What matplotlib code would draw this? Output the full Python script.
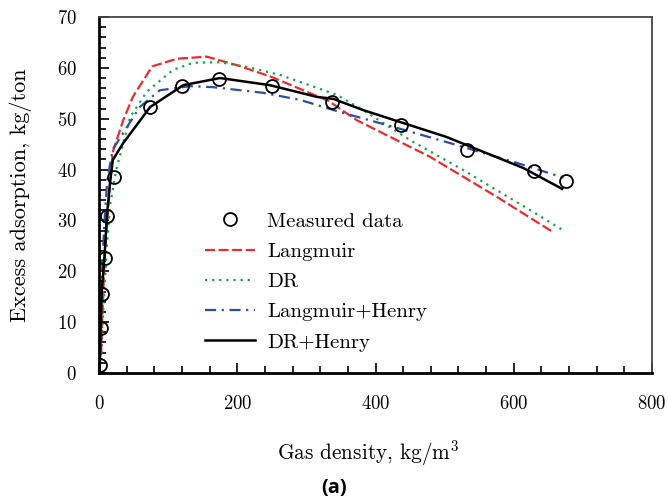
import matplotlib
matplotlib.use("Agg")
import matplotlib.pyplot as plt
import numpy as np

plt.rcParams['font.family'] = 'cmr10'
plt.rcParams['mathtext.fontset'] = 'cm'
plt.rcParams['axes.formatter.use_mathtext'] = True

# measured points
meas_x = [2, 2.5, 4, 8.5, 11.5, 21.5, 74, 120, 173, 250, 337, 437, 532, 630, 676]
meas_y = [1.5, 8.8, 15.6, 22.6, 30.8, 38.5, 52.3, 56.5, 57.8, 56.5, 53.3, 48.7, 43.9, 39.8, 37.8]

# model curves
lang_x = [3, 5, 8, 12, 16, 20, 35, 49, 77, 113, 156, 200, 250, 332, 373, 479, 576, 658]
lang_y = [3.5, 12, 22, 30, 37, 43.5, 49.7, 54.3, 60.3, 61.8, 62.2, 60.5, 58.2, 53.5, 49.7, 42.5, 34.6, 27.6]

dr_x = [3, 5, 8, 12, 16, 25, 45, 69, 107, 136, 175, 214, 262, 344, 382, 450, 527, 624, 672]
dr_y = [2.5, 9, 17, 26, 33, 40, 50.3, 55.3, 59.6, 61.0, 61.1, 60.2, 58.6, 54.7, 51.7, 45.8, 39.9, 32.0, 28.0]

lh_x = [1, 3, 5, 8, 12, 20, 59, 88, 132, 165, 237, 291, 349, 431, 503, 605, 672]
lh_y = [1, 14, 22, 30, 38, 44, 52.3, 55.6, 56.4, 56.2, 55.1, 53.7, 51.3, 48.2, 45.4, 41.3, 38.4]

drh_x = [1, 2.5, 4, 8, 11.5, 16, 20, 35, 74, 122, 175, 247, 315, 339, 382, 503, 614, 670]
drh_y = [0.5, 9, 16, 23, 31, 37.5, 41.9, 45.2, 52.3, 56.6, 58.0, 56.6, 54.3, 53.9, 51.7, 46.4, 40.3, 36.2]

fig = plt.figure(figsize=(6.68, 5.03), dpi=100)
ax = fig.add_axes([99/668, 1-373/503, 553/668, 356/503])

ax.plot(meas_x, meas_y, 'o', mfc='none', mec='black', ms=9.3, mew=1.3, label='Measured data', zorder=5)
ax.plot(lang_x, lang_y, color='#ee2a2e', lw=1.6, dashes=(4.5, 1.6), label='Langmuir')
ax.plot(dr_x, dr_y, color='#10a54a', lw=1.6, dashes=(1, 2.2), label='DR')
ax.plot(lh_x, lh_y, color='#2c4fa3', lw=1.6, dashes=(5, 2.5, 1, 2.5), label='Langmuir+Henry')
ax.plot(drh_x, drh_y, color='black', lw=1.8, label='DR+Henry')

ax.set_xlim(0, 800)
ax.set_ylim(0, 70)
ax.set_xticks([0, 200, 400, 600, 800])
ax.set_xticks(np.arange(0, 801, 40), minor=True)
ax.set_yticks(np.arange(0, 71, 10))
ax.set_yticks(np.arange(0, 71, 2), minor=True)
ax.tick_params(which='both', direction='in', top=False, right=False, labelsize=13.5, width=1.2)
ax.tick_params(which='major', length=7)
ax.tick_params(which='minor', length=5)
ax.tick_params(axis='x', pad=16)
ax.tick_params(axis='y', pad=16)

ax.spines['left'].set_linewidth(2)
ax.spines['bottom'].set_linewidth(2)
ax.spines['top'].set_linewidth(1.3)
ax.spines['right'].set_linewidth(1.3)
ax.spines['top'].set_color('#444444')
ax.spines['right'].set_color('#444444')

ax.set_xlabel(r'Gas density, kg/m$^3$', fontsize=15.3)
ax.set_ylabel('Excess adsorption, kg/ton', fontsize=16)
ax.xaxis.set_label_coords(0.486, -0.183)
ax.yaxis.set_label_coords(-0.122, 0.5)

ax.legend(loc='upper left', bbox_to_anchor=(205/668, 1-212/503), bbox_transform=fig.transFigure,
          frameon=False, fontsize=15, handlelength=2.4, handletextpad=0.58, labelspacing=0.56,
          borderpad=0, borderaxespad=0)

fig.text(334/668, 1-488/503, '(a)', ha='center', va='center', fontsize=14.5,
         fontweight='bold', family='Open Sans')

fig.savefig('out.png', dpi=100)
